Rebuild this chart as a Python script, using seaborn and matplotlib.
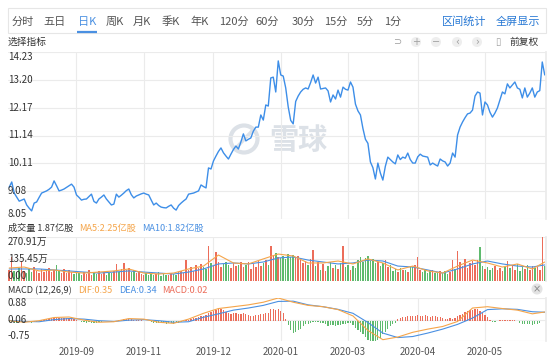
import numpy as np
import pandas as pd
import seaborn as sns
import matplotlib.pyplot as plt
from matplotlib.patches import Circle, Rectangle

# --- dados ---
price = [9.23, 9.42, 9.01, 8.86, 8.71, 8.75, 8.79, 8.57, 8.45, 8.35,
         8.64, 8.68, 8.85, 9.01, 9.05, 9.09, 9.15, 9.23, 9.46, 9.28,
         9.09, 9.12, 9.16, 9.22, 9.28, 9.34, 9.23, 8.94, 8.85, 8.75,
         8.78, 8.79, 8.88, 8.97, 8.70, 8.64, 8.79, 8.86, 8.94, 8.79,
         8.68, 8.57, 8.60, 8.97, 8.86, 8.93, 9.01, 9.10, 9.16, 8.95,
         8.83, 8.90, 8.94, 8.98, 9.01, 8.97, 8.94, 8.75, 8.57, 8.64,
         8.55, 8.49, 8.47, 8.46, 8.52, 8.57, 8.45, 8.38, 8.55, 8.64,
         8.72, 8.79, 8.97, 8.99, 9.01, 9.05, 9.09, 9.31, 9.25, 9.20,
         9.94, 9.90, 10.20, 10.38, 10.55, 10.68, 10.50, 10.38, 10.27, 10.45,
         10.62, 10.75, 10.64, 10.90, 11.20, 10.94, 11.00, 11.05, 11.30, 11.45,
         11.45, 11.90, 11.71, 12.27, 12.23, 13.27, 13.30, 12.75, 13.90, 13.38,
         13.34, 12.90, 12.20, 11.70, 11.57, 12.40, 12.60, 12.75, 12.85, 12.90,
         12.86, 13.10, 13.38, 13.08, 13.30, 12.86, 12.88, 12.90, 12.79, 12.38,
         12.64, 12.49, 12.82, 12.56, 12.93, 12.85, 12.82, 13.12, 12.93, 12.30,
         12.05, 11.90, 11.40, 11.00, 10.85, 10.16, 9.95, 9.53, 10.12, 9.75,
         9.49, 10.00, 10.34, 10.25, 10.16, 10.09, 10.42, 10.25, 10.34, 10.30,
         10.49, 10.25, 10.12, 10.12, 10.35, 10.45, 10.38, 10.36, 10.34, 10.05,
         10.12, 10.06, 10.01, 10.27, 10.20, 10.16, 10.01, 10.12, 10.49, 10.34,
         11.16, 11.45, 11.64, 11.80, 11.94, 11.97, 12.08, 12.60, 12.75, 12.71,
         11.90, 12.38, 12.27, 12.00, 11.82, 11.97, 12.16, 12.45, 12.75, 12.68,
         13.05, 12.90, 13.01, 13.12, 12.90, 12.85, 12.53, 12.90, 12.56, 12.71,
         12.90, 12.56, 12.75, 12.80, 13.86, 13.38]

# volume em 万
volume = [70, 148, 60, 55, 80, 125, 62, 48, 72, 55, 88, 64, 50, 76, 58, 66, 82, 54, 70, 96, 60, 52, 74, 48, 66, 58,
          45, 62, 52, 40, 58, 44, 70, 38, 52, 46, 60, 42, 55, 36, 48,
          50, 64, 105, 58, 72, 110, 66, 80, 58, 70, 52, 62, 46,
          40, 48, 35, 52, 38, 44, 55, 32, 46, 40, 36, 50, 42, 38, 54, 60, 48,
          128, 70, 85, 62, 96, 78, 105, 88, 72,
          215, 110, 95, 180, 120, 88, 105, 118, 96, 82, 110, 92, 100,
          117, 84, 98, 120, 76, 105, 88, 124, 95, 110, 130, 100,
          215, 160, 172, 150, 140, 155, 135,
          165, 150, 160, 142, 155, 130,
          110, 125, 98, 135, 190,
          90, 120, 70, 105, 62, 95, 115, 80, 100, 72, 110,
          215,
          85, 100, 70, 95, 80,
          130, 150, 118, 140, 155, 125, 135, 110,
          120, 95, 110, 130, 88, 100,
          62, 75, 55, 80, 66, 70, 58,
          92, 88, 96,
          148,
          66, 58, 72, 50, 62, 70, 48, 56, 64, 52, 60, 46, 58,
          130, 72, 185,
          120, 95, 135, 80, 110, 125, 100, 130,
          210,
          90, 72, 85, 66, 78, 92, 70, 82, 64, 88,
          125,
          80, 96, 70, 105, 62, 88, 74, 100, 66, 92, 78, 84,
          70, 270, 95]

macd_hist = [-0.02, -0.03, -0.05, -0.05, -0.04, -0.03, -0.02, -0.03, -0.04, -0.05, -0.04, -0.02, 0.01, 0.03, 0.05,
             0.07, 0.09, 0.11, 0.14, 0.14, 0.13, 0.13, 0.14, 0.13, 0.12, 0.11, 0.08, 0.05, 0.02,
             -0.02, -0.04, -0.05, -0.04, -0.05, -0.06, -0.05, -0.04, -0.03, -0.01,
             0.01, -0.01, -0.03, -0.02, 0.02,
             0.05, 0.06, 0.08, 0.09, 0.08, 0.07, 0.06, 0.05, 0.05, 0.03, 0.02,
             0.01, -0.01, -0.03,
             -0.05, -0.06, -0.07, -0.08, -0.08, -0.09, -0.08, -0.08, -0.09, -0.07, -0.05, -0.03, -0.01,
             0.03, 0.06, 0.09, 0.11, 0.13, 0.15, 0.18, 0.20, 0.22, 0.30, 0.35, 0.40, 0.43, 0.45, 0.46, 0.42,
             0.36, 0.30, 0.28, 0.30, 0.32, 0.28, 0.27, 0.30, 0.26, 0.22, 0.20, 0.21, 0.23, 0.25, 0.28, 0.26, 0.30,
             0.33, 0.45, 0.48, 0.42, 0.45, 0.38, 0.30,
             0.10, -0.15, -0.35, -0.45, -0.42, -0.35, -0.28,
             -0.18, -0.12, -0.10, -0.08, -0.02, -0.04, -0.02, -0.05, -0.08,
             -0.12, -0.17, -0.15, -0.16, -0.18, -0.14, -0.16, -0.12, -0.10, -0.08, -0.06,
             -0.15, -0.25, -0.32, -0.40, -0.50, -0.60, -0.70, -0.78, -0.82, -0.80, -0.72, -0.62,
             -0.48, -0.40, -0.28, -0.20, -0.12, -0.05,
             0.08, 0.12, 0.15, 0.17, 0.20, 0.21, 0.18, 0.20, 0.22, 0.21, 0.20, 0.22, 0.18, 0.17, 0.19, 0.18, 0.16, 0.15,
             0.12, 0.10, 0.10, 0.11, 0.10, 0.12,
             0.18, 0.22, 0.28, 0.35, 0.40, 0.42, 0.44, 0.45, 0.47, 0.40, 0.33, 0.25, 0.15,
             0.06, -0.02, -0.04, 0.02, 0.03, 0.04, 0.05, 0.04, 0.06, 0.05, 0.03, -0.01,
             -0.05, -0.10, -0.12, -0.11, -0.12, -0.13, -0.12, -0.11, -0.08,
             0.02, 0.02]

# linhas dos indicadores, lidas a cada 6 barras
line_idx = [0, 6, 12, 18, 24, 30, 36, 42, 48, 54, 60, 66, 72, 78, 84, 90, 96, 102, 108,
            114, 120, 126, 132, 138, 144, 150, 156, 162, 168, 174, 180, 186, 192, 198, 204, 210, 215]
dif = [0.02, -0.04, 0.02, 0.14, 0.16, 0.04, -0.04, -0.02, 0.10, 0.08, -0.04, -0.08, 0.08, 0.30, 0.48, 0.55,
       0.62, 0.72, 0.88, 0.72, 0.60, 0.55, 0.44, 0.20, -0.35, -0.70, -0.60, -0.42, -0.30, -0.20, -0.01,
       0.50, 0.55, 0.48, 0.42, 0.28, 0.35]
dea = [0.03, -0.01, -0.02, 0.06, 0.10, 0.08, 0.02, -0.01, 0.04, 0.06, 0.02, -0.04, -0.02, 0.15, 0.28, 0.42,
       0.50, 0.60, 0.75, 0.76, 0.62, 0.55, 0.45, 0.30, -0.05, -0.45, -0.62, -0.58, -0.45, -0.30, -0.12,
       0.12, 0.44, 0.47, 0.45, 0.36, 0.34]
vol_ma10 = [74, 74, 74, 68, 62, 55, 49, 55, 62, 55, 49, 43, 55, 74, 105, 111, 105, 117, 142, 148, 129, 117,
            105, 111, 129, 123, 92, 86, 68, 49, 74, 105, 123, 105, 92, 86, 99]
vol_ma5 = [80, 86, 62, 68, 55, 49, 55, 62, 74, 49, 43, 49, 74, 92, 160, 111, 105, 136, 166, 154, 111, 111,
           123, 105, 136, 111, 68, 92, 62, 49, 92, 129, 111, 86, 105, 74, 117]

date_ticks = [27, 54, 82, 109, 136, 164, 191]
date_labels = ['2019-09', '2019-11', '2019-12', '2020-01', '2020-03', '2020-04', '2020-05']
price_ticks = [8.05, 9.08, 10.11, 11.14, 12.17, 13.20, 14.23]
price_labels = ['8.05', '9.08', '10.11', '11.14', '12.17', '13.20', '14.23']
vol_ticks = [0, 135.45, 270.91]
vol_labels = ['0.00', '135.45万', '270.91万']
macd_ticks = [-0.75, 0.06, 0.88]
macd_labels = ['-0.75', '0.06', '0.88']
tabs = ['分时', '五日', '日K', '周K', '月K', '季K', '年K', '120分', '60分', '30分', '15分', '5分', '1分']

RED = '#ec6d5a'
GREEN = '#5fba6e'
ORANGE = '#f5a54a'
BLUE = '#4a90e2'
LINE = '#3d8ee8'
GRID = '#ebebeb'
TXT = '#333333'

sns.set_theme(style='white')
plt.rcParams['font.family'] = ['Noto Sans CJK SC', 'DejaVu Sans']

W, H = 554, 358
fig = plt.figure(figsize=(W / 100, H / 100), dpi=100)


def rect(x0, y0, x1, y1):
    return [x0 / W, 1 - y1 / H, (x1 - x0) / W, (y1 - y0) / H]


# camada de decoracao em pixels
deco = fig.add_axes([0, 0, 1, 1], zorder=0)
deco.set_xlim(0, W)
deco.set_ylim(H, 0)
deco.axis('off')

deco.add_patch(Rectangle((8, 8), 538, 25, fill=False, edgecolor='#e6e6e6', lw=0.8))
tab_x = [23, 55, 87, 115, 142, 171, 200, 234, 267, 303, 336, 365, 393]
for tx, t in zip(tab_x, tabs):
    deco.text(tx, 21.5, t, ha='center', va='center', fontsize=8,
              color=BLUE if t == '日K' else '#555555')
deco.plot([77, 97], [32, 32], color=BLUE, lw=1.6, solid_capstyle='butt')
deco.text(464, 21.5, '区间统计', ha='center', va='center', fontsize=8, color='#2a7ad5')
deco.text(518, 21.5, '全屏显示', ha='center', va='center', fontsize=8, color='#2a7ad5')

deco.text(8, 42, '选择指标', ha='left', va='center', fontsize=7, color=TXT)
icon_x = [397, 416, 436, 457, 477, 498]
icons = ['⊃', '+', '−', '‹', '›', '▯']
for ix, ic in zip(icon_x, icons):
    if ic not in ('⊃', '▯'):
        deco.add_patch(Circle((ix, 42), 5, color='#eeeeee', lw=0))
    deco.text(ix, 42, ic, ha='center', va='center', fontsize=7, color='#a0a0a0',
              family=['DejaVu Sans'])
deco.text(524, 42, '前复权', ha='center', va='center', fontsize=7, color=TXT)

# marca d'agua
WM = '#dce1e7'
deco.add_patch(Circle((244, 139), 13.5, fill=False, edgecolor=WM, lw=3))
deco.plot([237, 252], [147, 131], color=WM, lw=2.5)
deco.text(298, 140, '雪球', ha='center', va='center', fontsize=21, color=WM, fontweight='bold')

# titulos dos paineis
FS = 6.6
deco.text(8, 228.5, '成交量 1.87亿股', ha='left', va='center', fontsize=FS, color=TXT)
deco.text(79, 228.5, 'MA5:2.25亿股', ha='left', va='center', fontsize=FS, color=ORANGE)
deco.text(142, 228.5, 'MA10:1.82亿股', ha='left', va='center', fontsize=FS, color=BLUE)
deco.text(8, 290.5, 'MACD (12,26,9)', ha='left', va='center', fontsize=FS, color=TXT)
deco.text(78, 290.5, 'DIF:0.35', ha='left', va='center', fontsize=FS, color=ORANGE)
deco.text(119, 290.5, 'DEA:0.34', ha='left', va='center', fontsize=FS, color=BLUE)
deco.text(162, 290.5, 'MACD:0.02', ha='left', va='center', fontsize=FS, color=RED)
deco.add_patch(Circle((537, 289), 5.5, color='#e3e3e3', lw=0))
deco.text(537, 289, '×', ha='center', va='center', fontsize=7, color='#888888', family=['DejaVu Sans'])

N = len(price)
idx = np.arange(N)
chg = np.diff(np.array(price), prepend=price[0])
df_v = pd.DataFrame({'i': idx, 'vol': volume, 'dir': np.where(chg >= 0, 'up', 'down')})
df_m = pd.DataFrame({'i': idx, 'macd': macd_hist, 'dir': np.where(np.array(macd_hist) >= 0, 'up', 'down')})
pal = {'up': RED, 'down': GREEN}


def style_axes(ax, ylim, yticks, ylabels):
    ax.set_facecolor('none')
    ax.set_xlim(-0.5, N - 0.5)
    ax.set_ylim(*ylim)
    ax.set_xticks(date_ticks)
    ax.set_yticks(yticks)
    ax.set_yticklabels([])
    ax.tick_params(length=0, labelbottom=False)
    ax.grid(True, color=GRID, lw=0.8)
    ax.set_axisbelow(True)
    for s in ax.spines.values():
        s.set_visible(False)
    ax.spines['right'].set_visible(True)
    ax.spines['right'].set_color(GRID)
    ax.set_xlabel('')
    ax.set_ylabel('')
    tr = ax.get_yaxis_transform()
    for k, (v, lab) in enumerate(zip(yticks, ylabels)):
        va = 'bottom' if k == 0 else ('top' if k == len(yticks) - 1 else 'center')
        ax.text(0.0, v, lab, transform=tr, ha='left', va=va, fontsize=7, color=TXT, zorder=10)


# painel de precos
ax_p = fig.add_axes(rect(8, 52, 546, 219), zorder=2)
sns.lineplot(x=idx, y=price, ax=ax_p, color=LINE, lw=1.0)
style_axes(ax_p, (8.05, 14.23), price_ticks, price_labels)

# painel de volume
ax_v = fig.add_axes(rect(8, 237, 546, 281), zorder=2)
sns.barplot(data=df_v, x='i', y='vol', hue='dir', palette=pal, native_scale=True, width=0.6,
            dodge=False, legend=False, errorbar=None, saturation=1, linewidth=0, ax=ax_v)
sns.lineplot(x=line_idx, y=vol_ma10, ax=ax_v, color=BLUE, lw=0.8)
sns.lineplot(x=line_idx, y=vol_ma5, ax=ax_v, color=ORANGE, lw=0.8)
style_axes(ax_v, (0, 270.91), vol_ticks, vol_labels)

# painel MACD
ax_m = fig.add_axes(rect(8, 298, 546, 341), zorder=2)
sns.barplot(data=df_m, x='i', y='macd', hue='dir', palette=pal, native_scale=True, width=0.5,
            dodge=False, legend=False, errorbar=None, saturation=1, linewidth=0, ax=ax_m)
sns.lineplot(x=line_idx, y=dea, ax=ax_m, color=BLUE, lw=0.8)
sns.lineplot(x=line_idx, y=dif, ax=ax_m, color=ORANGE, lw=0.8)
style_axes(ax_m, (-0.75, 0.88), macd_ticks, macd_labels)
ax_m.tick_params(labelbottom=True, pad=4, labelsize=7, labelcolor='#555555')
ax_m.set_xticks(date_ticks, date_labels)

fig.savefig('out.png', dpi=100)
